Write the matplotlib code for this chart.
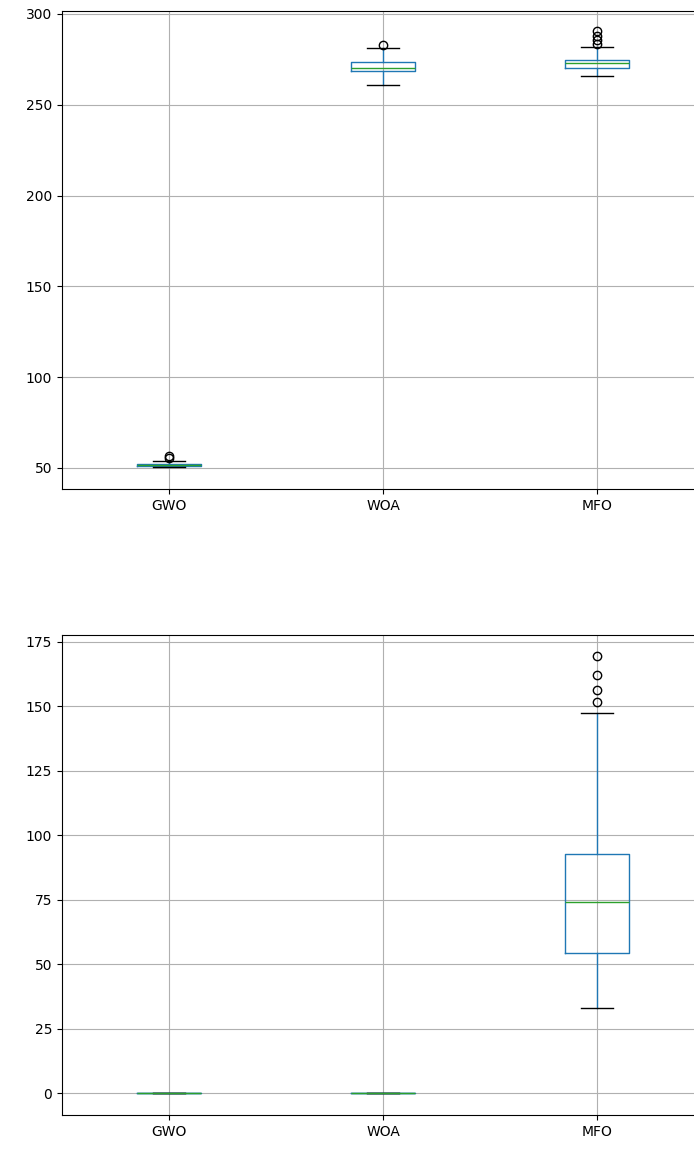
import matplotlib
matplotlib.use("Agg")
import matplotlib.pyplot as plt

labels = ["GWO", "WOA", "MFO"]

# Top chart box statistics
top_med = [51.6, 270.3, 272.9]
top_q1 = [51.1, 268.6, 270.1]
top_q3 = [52.2, 273.4, 274.7]
top_whislo = [50.4, 261.1, 266.0]
top_whishi = [54.0, 281.1, 282.0]
top_fliers = [[55.3, 56.6], [282.9], [283.3, 285.5, 288.0, 290.5]]

# Bottom chart box statistics
bot_med = [0.05, 0.05, 74.0]
bot_q1 = [0.02, 0.02, 54.4]
bot_q3 = [0.1, 0.1, 92.6]
bot_whislo = [0.0, 0.0, 33.1]
bot_whishi = [0.2, 0.2, 147.3]
bot_fliers = [[], [], [151.8, 156.4, 162.2, 169.6]]


def make_stats(med, q1, q3, lo, hi, fl):
    return [dict(label=l, med=m, q1=a, q3=b, whislo=c, whishi=d, fliers=f)
            for l, m, a, b, c, d, f in zip(labels, med, q1, q3, lo, hi, fl)]


fig = plt.figure(figsize=(6.94, 11.5), dpi=100)
ax1 = fig.add_axes([62 / 694, (1150 - 489) / 1150, 642 / 694, 478 / 1150])
ax2 = fig.add_axes([62 / 694, (1150 - 1115) / 1150, 642 / 694, 480 / 1150])

props = dict(
    boxprops=dict(color="#1f77b4"),
    whiskerprops=dict(color="#1f77b4"),
    medianprops=dict(color="#2ca02c"),
    capprops=dict(color="black"),
    flierprops=dict(marker="o", markeredgecolor="black", markerfacecolor="none"),
)

for ax, stats, ylim, ticks in [
    (ax1, make_stats(top_med, top_q1, top_q3, top_whislo, top_whishi, top_fliers),
     (38.4, 301.6), [50, 100, 150, 200, 250, 300]),
    (ax2, make_stats(bot_med, bot_q1, bot_q3, bot_whislo, bot_whishi, bot_fliers),
     (-8.5, 177.7), [0, 25, 50, 75, 100, 125, 150, 175]),
]:
    ax.bxp(stats, positions=[1, 2, 3], widths=0.3, **props)
    ax.set_xlim(0.5, 3.5)
    ax.set_ylim(*ylim)
    ax.set_yticks(ticks)
    ax.grid(True)
    ax.set_axisbelow(True)

fig.savefig("out.png", dpi=100)
